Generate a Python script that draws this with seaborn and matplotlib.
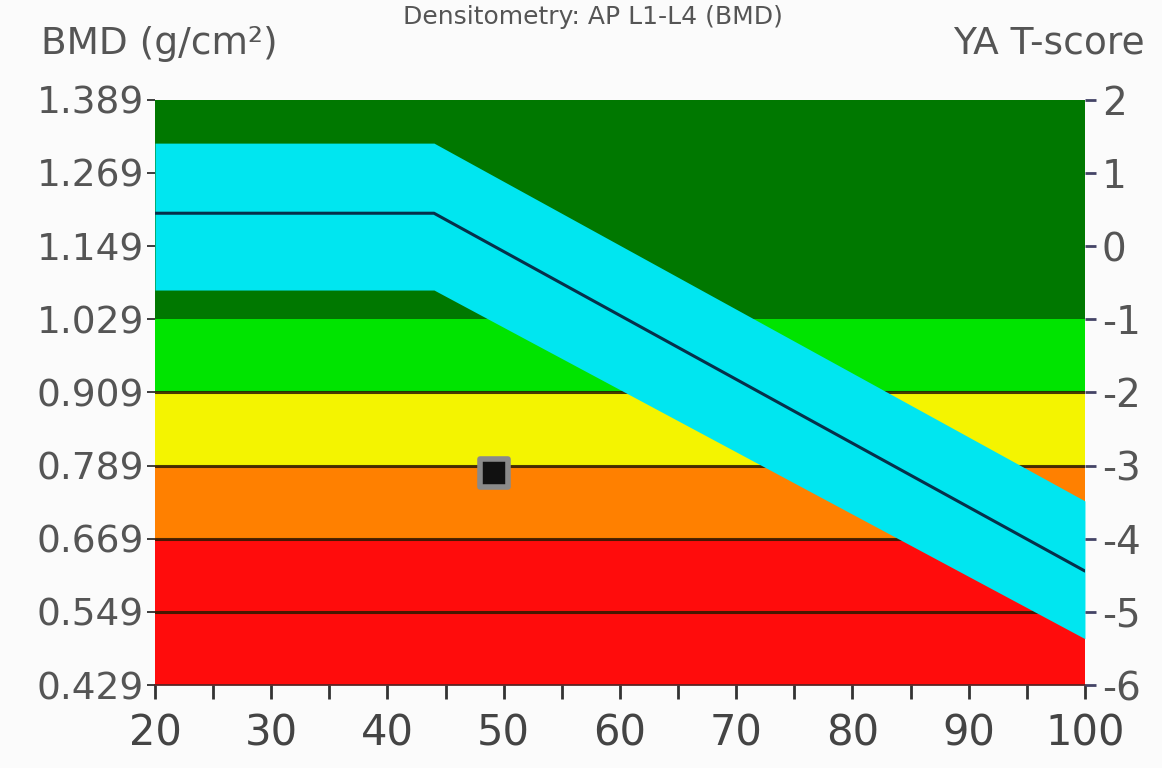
import matplotlib
matplotlib.use('Agg')
import matplotlib.pyplot as plt
import seaborn as sns

# tick values
bmd_ticks = [0.429, 0.549, 0.669, 0.789, 0.909, 1.029, 1.149, 1.269, 1.389]
bmd_labels = ['0.429', '0.549', '0.669', '0.789', '0.909', '1.029', '1.149', '1.269', '1.389']
t_ticks = [-6, -5, -4, -3, -2, -1, 0, 1, 2]
t_labels = ['-6', '-5', '-4', '-3', '-2', '-1', '0', '1', '2']
age_ticks = [20, 30, 40, 50, 60, 70, 80, 90, 100]

# T-score zones (bounds in T-score) and colours
zone_bounds = [-6, -4, -3, -2, -1, 2]
zone_colors = ['#ff0c0c', '#ff8000', '#f4f400', '#00e400', '#007800']
zone_lines = [-5, -4, -3, -2]

# young adult reference curve (age, BMD) and +/- 1 SD band
ref_age = [20, 44, 100]
ref_bmd = [1.203, 1.203, 0.616]
ref_upper = [1.318, 1.318, 0.731]
ref_lower = [1.077, 1.077, 0.505]

# patient measurement
patient_age = [49.2]
patient_bmd = [0.777]

t0_bmd = 1.149
sd_bmd = 0.12

sns.set_theme(style='white')
plt.rcParams['font.family'] = ['DejaVu Sans']

fig = plt.figure(figsize=(11.62, 7.68), dpi=100)
fig.patch.set_facecolor('#fbfbfb')
ax = fig.add_axes([0.1334, 0.108, 0.8003, 0.762])

# horizontal T-score zones
for lo, hi, col in zip(zone_bounds[:-1], zone_bounds[1:], zone_colors):
    ax.axhspan(t0_bmd + lo * sd_bmd, t0_bmd + hi * sd_bmd, color=col, lw=0, zorder=0)
for t in zone_lines:
    ax.axhline(t0_bmd + t * sd_bmd, color='#2a1a00', lw=2.2, alpha=0.85, zorder=1)

# reference band and curve
ax.fill_between(ref_age, ref_lower, ref_upper, color='#00e6f0', lw=0, zorder=2)
sns.lineplot(x=ref_age, y=ref_bmd, ax=ax, color='#06304a', lw=2.2, zorder=3)

# patient point
sns.scatterplot(x=patient_age, y=patient_bmd, ax=ax, marker='s', s=420,
                color='#111111', edgecolor='#8a8a8a', linewidth=4, zorder=5)

ax.set_xlim(20, 100)
ax.set_ylim(bmd_ticks[0], bmd_ticks[-1])
ax.set_xticks(age_ticks)
ax.set_xticklabels([str(a) for a in age_ticks])
ax.set_xticks(list(range(20, 101, 5)), minor=True)
ax.set_yticks(bmd_ticks)
ax.set_yticklabels(bmd_labels)
ax.tick_params(axis='x', which='both', bottom=True, direction='out', length=10,
               width=2, color='#333333', labelsize=30, labelcolor='#444444', pad=10)
ax.tick_params(axis='y', left=False, labelsize=27, labelcolor='#555555', pad=2)
for s in ax.spines.values():
    s.set_visible(False)
ax.spines['bottom'].set_visible(True)
ax.spines['bottom'].set_color('#552222')
ax.set_xlabel('')
ax.set_ylabel('')

ax2 = ax.twinx()
ax2.set_ylim(t_ticks[0], t_ticks[-1])
ax2.set_yticks(t_ticks)
ax2.set_yticklabels(t_labels)
ax2.tick_params(axis='y', right=True, direction='out', length=8, width=2,
                color='#444466', labelsize=28, labelcolor='#555555', pad=4)
for s in ax2.spines.values():
    s.set_visible(False)
ax2.grid(False)

fig.text(0.035, 0.943, 'BMD (g/cm²)', fontsize=27, color='#555555', va='center')
fig.text(0.985, 0.943, 'YA T-score', fontsize=27, color='#555555', va='center', ha='right')
fig.text(0.51, 0.978, 'Densitometry: AP L1-L4 (BMD)', fontsize=18, color='#555555',
         va='center', ha='center')

fig.savefig('out.png', dpi=100, facecolor=fig.get_facecolor())
